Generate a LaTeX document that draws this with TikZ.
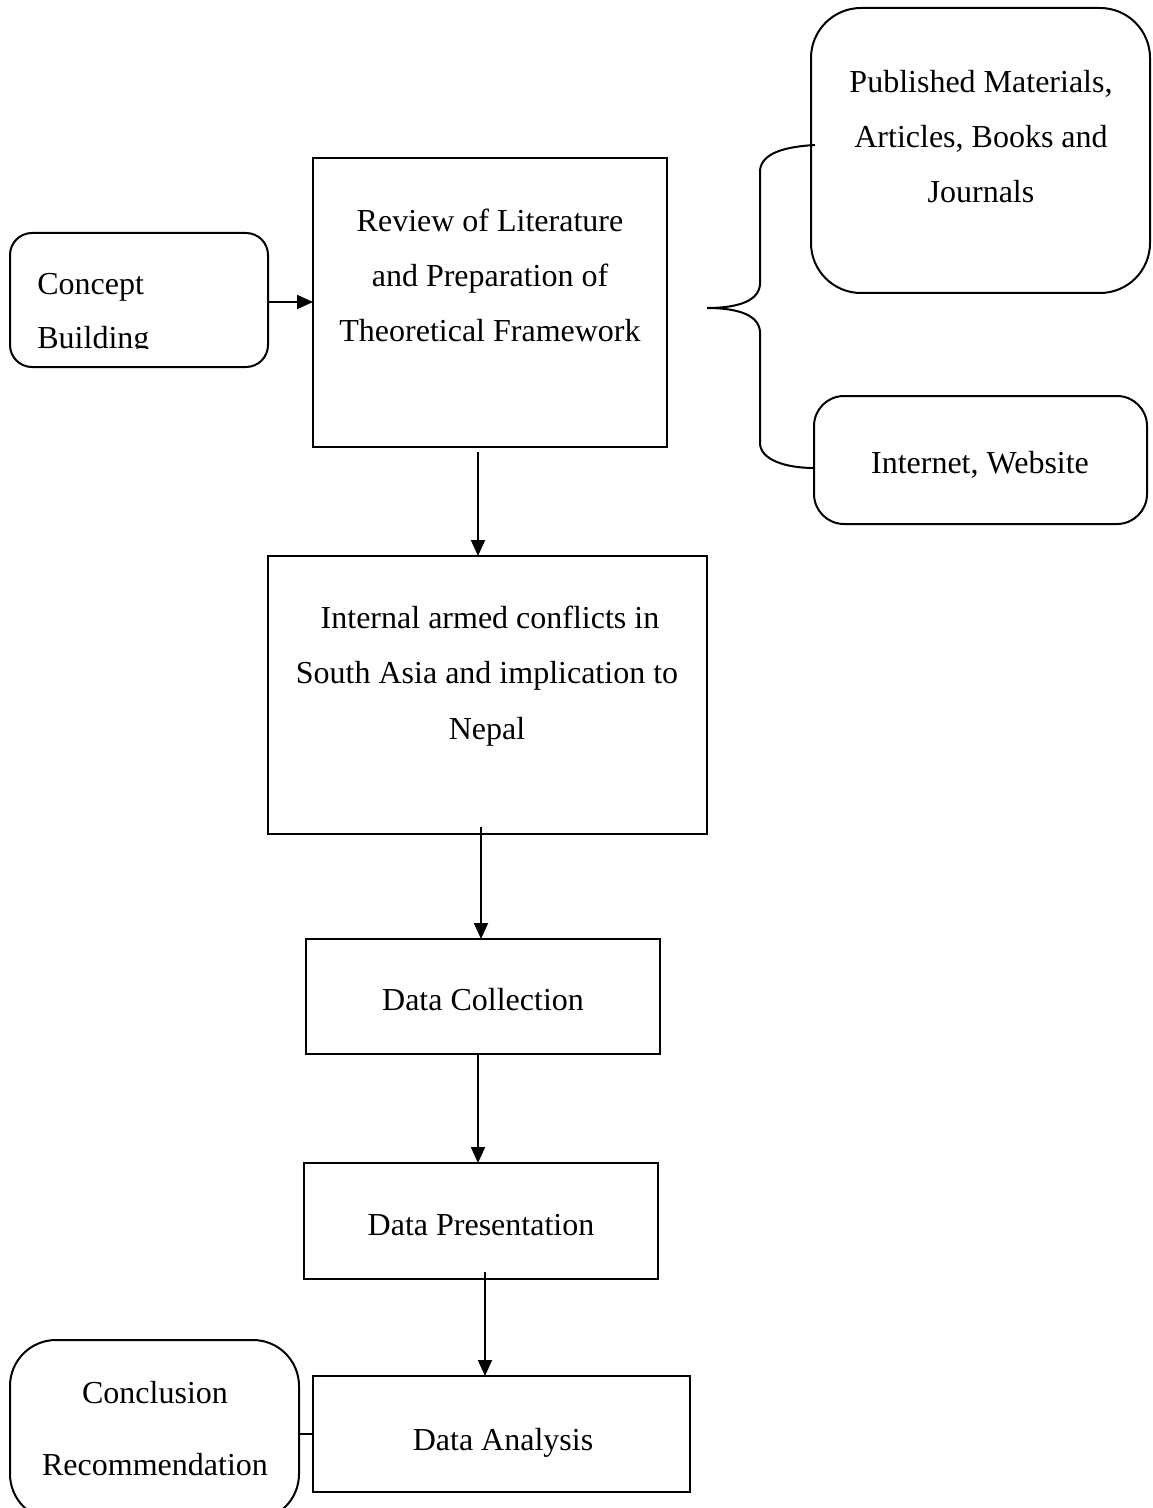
\documentclass[tikz,border=0pt]{standalone}
\usepackage{fontspec}
\setmainfont{Liberation Serif}
\usetikzlibrary{arrows.meta}
\tikzset{
  box/.style={draw, line width=1pt, inner sep=0pt, outer sep=0pt},
  rbox/.style={box, rounded corners=#1},
  txt/.style={inner sep=0pt, anchor=base, font=\fontsize{16}{27.5}\selectfont},
  ltxt/.style={txt, anchor=base west},
  arr/.style={line width=1pt, -{Triangle[length=8pt,width=7pt]}},
  conn/.style={line width=1pt}
}
\begin{document}
\begin{tikzpicture}[x=0.5pt,y=-0.5pt]
\useasboundingbox (0,0) rectangle (1152,1508);
\clip (0,0) rectangle (1152,1508);
% boxes
\node[rbox=11pt, minimum width=129pt, minimum height=67pt] (con) at (139,300) {};
\node[box, minimum width=177pt, minimum height=144.5pt] (rev) at (490,302.5) {};
\node[rbox=25pt, minimum width=169.5pt, minimum height=142.5pt] (pub) at (980.5,150.5) {};
\node[rbox=15pt, minimum width=166.5pt, minimum height=64pt] (inet) at (980.5,460) {};
\node[box, minimum width=219.5pt, minimum height=139pt] (int) at (487.5,695) {};
\node[box, minimum width=177pt, minimum height=57.5pt] (col) at (483,996.5) {};
\node[box, minimum width=177pt, minimum height=58pt] (pres) at (481,1221) {};
\node[box, minimum width=188.5pt, minimum height=58pt] (ana) at (501.5,1434) {};
\node[rbox=23pt, minimum width=144.5pt, minimum height=90pt] (concl) at (154.5,1430) {};
% texts
\begin{scope}
\clip (10,233) rectangle (268,349);
\node[ltxt] (t1) at (37,295) {Concept};
\node[ltxt] (t2) at (37,349) {Building};
\end{scope}
\node[txt] (t3) at (490,232) {Review of Literature};
\node[txt] (t4) at (490,287) {and Preparation of};
\node[txt] (t5) at (490,342) {Theoretical Framework};
\node[txt] (t6) at (981,93) {Published Materials,};
\node[txt] (t7) at (981,148) {Articles, Books and};
\node[txt] (t8) at (981,203) {Journals};
\node[txt] (t9) at (980,473) {Internet, Website};
\node[txt] (t10) at (490,628) {Internal armed conflicts in};
\node[txt] (t11) at (487,683) {South Asia and implication to};
\node[txt] (t12) at (487,739) {Nepal};
\node[txt] (t13) at (483,1010) {Data Collection};
\node[txt] (t14) at (481,1235) {Data Presentation};
\node[txt] (t15) at (503,1450) {Data Analysis};
\node[txt] (t16) at (155,1403) {Conclusion};
\node[txt] (t17) at (155,1475) {Recommendation};
% connectors
\draw[arr] ([yshift=-1pt]con.east) -- ([yshift=-1pt]con.east -| rev.west);
\draw[arr] ([xshift=-6pt,yshift=-2.5pt]rev.south) -- ([xshift=-4.75pt]int.north);
\draw[arr] ([xshift=-3.25pt,yshift=3.5pt]int.south) -- ([xshift=-1pt]col.north);
\draw[arr] ([xshift=-2.5pt]col.south) -- ([xshift=-1.5pt]pres.north);
\draw[arr] ([xshift=2pt,yshift=3.5pt]pres.south) -- ([xshift=-8.25pt]ana.north);
\draw[conn] (ana.west) -- (ana.west -| concl.east);
% brace
\draw[conn] (815,145) .. controls (778,147) and (760,156) .. (760,172)
  -- (760,283) .. controls (760,300) and (740,308) .. (707,308)
  .. controls (740,308) and (760,316) .. (760,333)
  -- (760,443) .. controls (760,459) and (784,468) .. (814,468);
\end{tikzpicture}
\end{document}
